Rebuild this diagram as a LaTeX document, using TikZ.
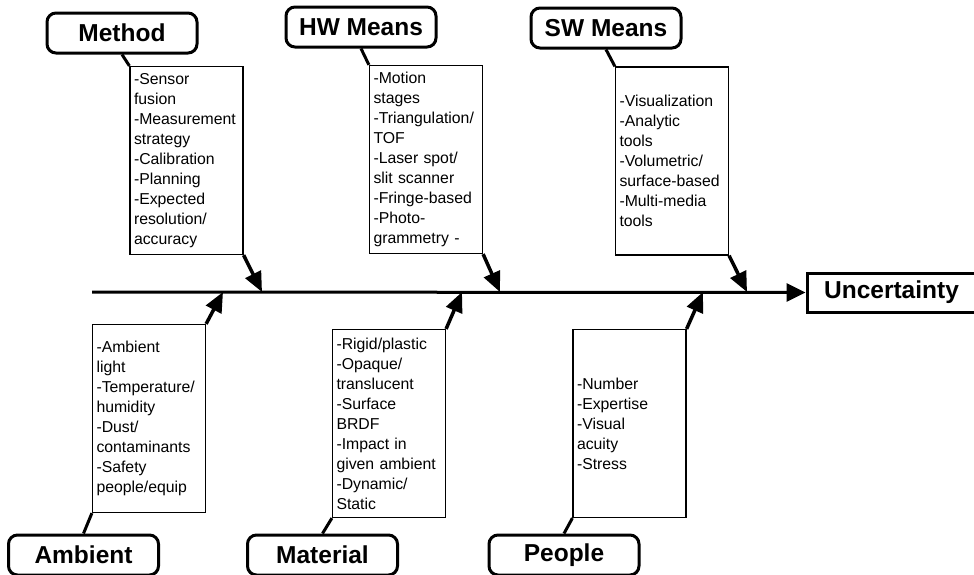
\documentclass[tikz,border=0pt]{standalone}
\usepackage{fontspec}
\setmainfont{Liberation Sans}
\usetikzlibrary{arrows.meta}

\tikzset{
  cat/.style={draw, line width=3pt, rounded corners=9pt, minimum width=150pt,
    minimum height=40pt, inner sep=0pt, font=\fontsize{24.5}{28}\selectfont\bfseries},
  causes/.style={draw, line width=1.2pt, minimum height=188pt, text width=105pt,
    inner xsep=4pt, inner ysep=0pt, align=left, font=\fontsize{15.8}{20}\selectfont},
  effect/.style={draw, line width=3pt, minimum width=169pt, minimum height=39pt,
    inner sep=0pt, font=\fontsize{24.5}{28}\selectfont\bfseries},
  link/.style={line width=3pt},
  feed/.style={line width=3.5pt, -{Triangle[length=20pt,width=17pt]}},
  spine/.style={line width=3pt, -{Triangle[length=19pt,width=18pt]}}
}

\begin{document}
\begin{tikzpicture}[x=1pt,y=-1pt]
\useasboundingbox (0,0) rectangle (974,574);

% effect and backbone
\node[effect] (unc) at (891.5,292.5) {Uncertainty};
\coordinate (spinestart) at (92,292);
\draw[spine] (spinestart) -- (unc.west);

% points where the branches meet the backbone
\coordinate (jm) at (262,292);
\coordinate (jh) at (500,292);
\coordinate (js) at (747,292);
\coordinate (ja) at (223,292);
\coordinate (jt) at (462,292);
\coordinate (jp) at (703,292);

% upper categories
\node[cat] (method) at (122,33) {Method};
\node[cat] (hw) at (361,27) {HW Means};
\node[cat] (sw) at (606,28) {SW Means};

\node[causes] (methodbox) at (186.5,160.5) {-Sensor\\fusion\\-Measurement\\strategy\\-Calibration\\-Planning\\-Expected\\resolution/\\accuracy};
\node[causes] (hwbox) at (426,159.5) {-Motion\\stages\\-Triangulation/\\TOF\\-Laser spot/\\slit scanner\\-Fringe-based\\-Photo-\\grammetry -};
\node[causes] (swbox) at (672,161) {-Visualization\\-Analytic\\tools\\-Volumetric/\\surface-based\\-Multi-media\\tools};

\draw[link] (method.south) -- (methodbox.north west);
\draw[link] (hw.south) -- (hwbox.north west);
\draw[link] (sw.south) -- (swbox.north west);

\draw[feed] (methodbox.south east) -- (jm);
\draw[feed] (hwbox.south east) -- (jh);
\draw[feed] (swbox.south east) -- (js);

% lower categories
\node[cat] (amb) at (83.5,555) {Ambient};
\node[cat] (mat) at (322.5,555) {Material};
\node[cat] (ppl) at (564,555) {People};

\node[causes] (ambbox) at (149,418.5) {-Ambient\\light\\-Temperature/\\humidity\\-Dust/\\contaminants\\-Safety\\people/equip};
\node[causes] (matbox) at (389,423.5) {-Rigid/plastic\\-Opaque/\\translucent\\-Surface\\BRDF\\-Impact in\\given ambient\\-Dynamic/\\Static};
\node[causes] (pplbox) at (629.5,423.5) {-Number\\-Expertise\\-Visual\\acuity\\-Stress};

\draw[link] (amb.north) -- (ambbox.south west);
\draw[link] (mat.north) -- (matbox.south west);
\draw[link] (ppl.north) -- (pplbox.south west);

\draw[feed] (ambbox.north east) -- (ja);
\draw[feed] (matbox.north east) -- (jt);
\draw[feed] (pplbox.north east) -- (jp);
\end{tikzpicture}
\end{document}
